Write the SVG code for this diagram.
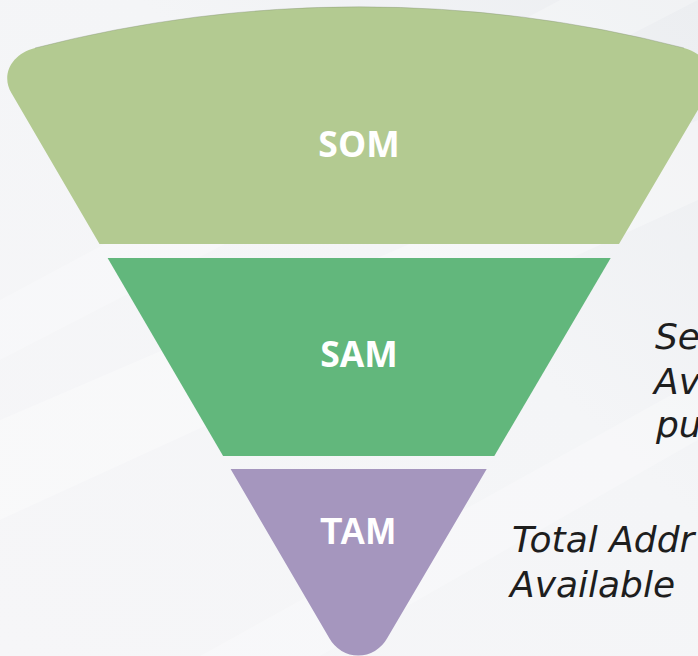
<svg xmlns="http://www.w3.org/2000/svg" width="698" height="656" viewBox="0 0 698 656">
  <defs>
    <linearGradient id="bg" x1="0" y1="1" x2="1" y2="0">
      <stop offset="0" stop-color="#f6f6f8"/>
      <stop offset="0.6" stop-color="#f4f5f7"/>
      <stop offset="1" stop-color="#eceef1"/>
    </linearGradient>
    <style>
      .label { font-family: "Open Sans", "Liberation Sans", sans-serif; font-weight: 700; font-size: 35.5px; fill: #ffffff; text-anchor: middle; }
      .label-alt { font-family: "Liberation Sans", Arial, sans-serif; font-weight: 700; font-size: 36px; fill: #ffffff; text-anchor: middle; }
      .note { font-family: "DejaVu Sans", "Liberation Sans", sans-serif; font-style: italic; font-size: 36px; fill: #1e1e1e; }
    </style>
  </defs>

  <!-- backdrop with soft diagonal light streaks -->
  <rect width="698" height="656" fill="url(#bg)"/>
  <polygon points="0,420 698,120 698,200 0,520" fill="#ffffff" opacity="0.3"/>
  <polygon points="0,300 560,0 698,0 0,360" fill="#ffffff" opacity="0.25"/>
  <polygon points="200,656 698,380 698,440 320,656" fill="#ffffff" opacity="0.25"/>

  <!-- funnel tiers -->
  <g id="som">
    <path d="M35,48 A1300,1300 0 0 1 684,48 C707.7,54.6 718.4,74.9 707.8,93 L619,244 L99.5,244 L11.4,93 C0.7,74.9 11.3,54.2 35,48 Z" fill="#b3ca91"/>
    <path d="M35,48 A1300,1300 0 0 1 684,48" fill="none" stroke="#7d8a73" stroke-opacity="0.35" stroke-width="1"/>
    <text class="label" x="359" y="157">SOM</text>
  </g>

  <g id="sam">
    <polygon points="107.6,258 610.7,258 494.3,456 223.1,456" fill="#62b77c"/>
    <text class="label" x="359" y="367">SAM</text>
  </g>

  <g id="tam">
    <path d="M230.6,469 L486.7,469 L387,638.6 A33,33 0 0 1 329.5,638.6 Z" fill="#a596be"/>
    <text class="label-alt" x="358" y="544">TAM</text>
  </g>

  <!-- side descriptions, running off the right edge -->
  <g id="sam-note">
    <text class="note" x="655" y="349">Se</text>
    <text class="note" x="654" y="394">Av</text>
    <text class="note" x="656" y="437">pu</text>
  </g>
  <g id="tam-note">
    <text class="note" x="512" y="552">Total Addr</text>
    <text class="note" x="510" y="597">Available</text>
  </g>
</svg>
